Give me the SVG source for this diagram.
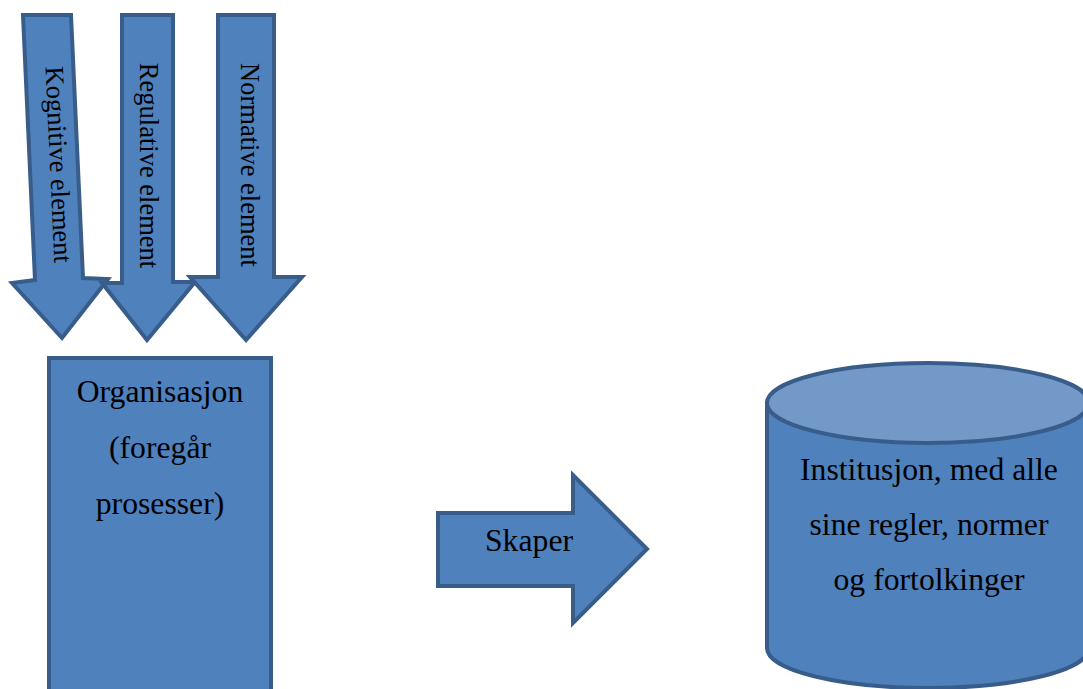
<svg xmlns="http://www.w3.org/2000/svg" width="1083" height="689" viewBox="0 0 1083 689">
<style>
.shape{fill:#4F81BD;stroke:#385D8A;stroke-width:4;stroke-linejoin:miter}
.top{fill:#7399C9;stroke:#385D8A;stroke-width:4}
.t{font-family:"Liberation Serif","Times New Roman",serif;fill:#000;text-anchor:middle}
.v{font-size:26.5px}
.b{font-size:31.7px}
</style>
<rect width="1083" height="689" fill="#fff"/>
<g id="connectors">
<g id="arrow-kognitive">
<polygon class="shape" points="23,15 71,15 83,278 108,279 62,338 12,283 35,280"/>
<text class="t v" transform="translate(50,165) rotate(87.4)">Kognitive element</text>
</g>
<g id="arrow-regulative">
<polygon class="shape" points="122,15 173,15 173,282 195,282 147,340 102,283 122,283"/>
<text class="t v" transform="translate(139.5,165.5) rotate(90)">Regulative element</text>
</g>
<g id="arrow-normative">
<polygon class="shape" points="218,15 274,15 274,277 302,277 246,340 190,277 218,277"/>
<text class="t v" transform="translate(240.5,165) rotate(90)">Normative element</text>
</g>
<g id="arrow-skaper">
<polygon class="shape" points="438,513 573,513 573,475 647,549 573,623 573,586 438,586"/>
<text class="t b" x="529" y="551">Skaper</text>
</g>
</g>
<g id="organisasjon">
<rect class="shape" x="49" y="358" width="222" height="340"/>
<text class="t b" x="160" y="402">Organisasjon</text>
<text class="t b" x="160" y="458">(foregår</text>
<text class="t b" x="160" y="514">prosesser)</text>
</g>
<g id="institusjon">
<path class="shape" d="M767,403 L767,648 A161,40 0 0 0 1089,648 L1089,403 Z"/>
<ellipse class="top" cx="928" cy="403" rx="161" ry="40"/>
<text class="t b" x="929" y="480">Institusjon, med alle</text>
<text class="t b" x="929" y="535">sine regler, normer</text>
<text class="t b" x="929" y="590">og fortolkinger</text>
</g>
</svg>
